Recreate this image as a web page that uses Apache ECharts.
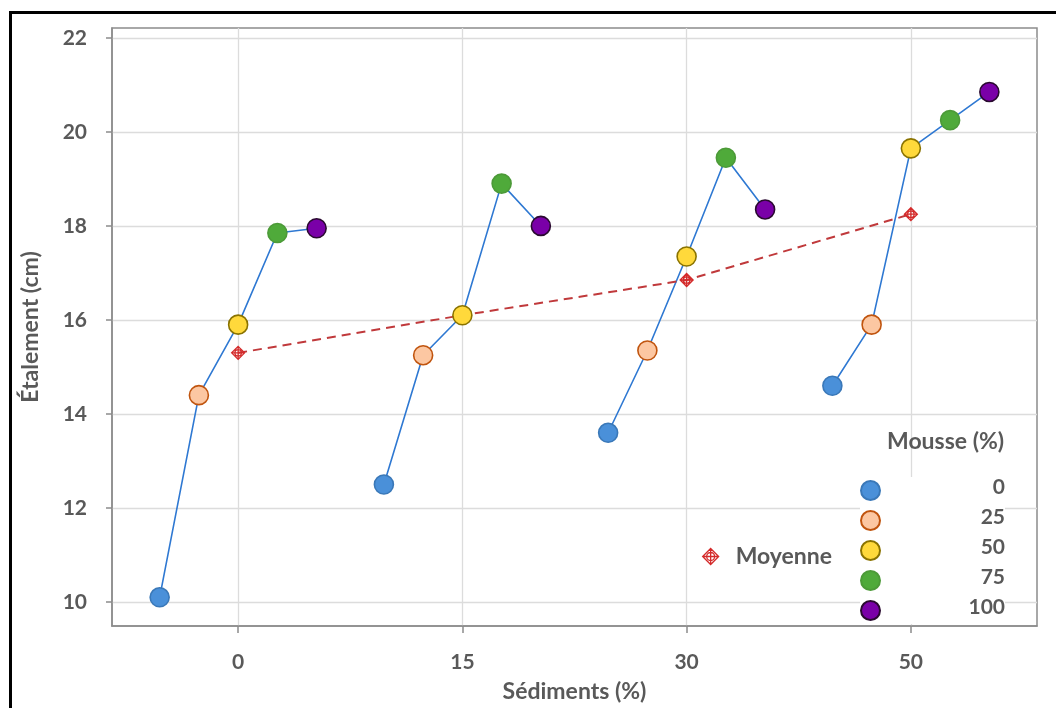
<!DOCTYPE html>
<html>
<head>
<meta charset="utf-8">
<script src="https://cdn.jsdelivr.net/npm/echarts@6/dist/echarts.min.js"></script>
<style>
html,body{margin:0;padding:0;background:#fff;}
#chart{width:1056px;height:708px;}
</style>
</head>
<body>
<div id="chart"></div>
<script>
// ---- Data ----
const sediments = ['0', '15', '30', '50'];          // x categories (Sédiments %)
const mousse = ['0', '25', '50', '75', '100'];      // series (Mousse %)
// Étalement (cm) per Sédiments group, ordered by Mousse 0,25,50,75,100
const etalSed0 = [10.1, 14.4, 15.9, 17.85, 17.95];
const etalSed15 = [12.5, 15.25, 16.1, 18.9, 18.0];
const etalSed30 = [13.6, 15.35, 17.35, 19.45, 18.35];
const etalSed50 = [14.6, 15.9, 19.65, 20.25, 20.85];
const moyenne = [15.3, 16.1, 16.85, 18.25];
const yTicks = [10, 12, 14, 16, 18, 20, 22];

// ---- Layout constants ----
const groups = [etalSed0, etalSed15, etalSed30, etalSed50];
const offsets = [-0.35, -0.175, 0, 0.175, 0.35];
const fills = ['#4A90D9', '#FCC7A2', '#FFD93B', '#4FAA3A', '#7A00A8'];
const borders = ['#3A78B8', '#C0540E', '#8A7300', '#4C9A38', '#2A0A30'];
const FONT = 'Lato';
const TXT = '#595959';

const series = [];
// connecting blue lines, one per sediment group
groups.forEach((g, gi) => {
  series.push({
    type: 'line', name: 'line' + gi, silent: true, symbol: 'none', z: 2,
    lineStyle: { color: '#2E78D2', width: 1.6 },
    data: g.map((v, i) => [gi + offsets[i], v]),
    legendHoverLink: false
  });
});
// Moyenne
const moyIcon = 'path://M0,-10 L10,0 L0,10 L-10,0 Z M0,-10 L0,10 M-10,0 L10,0 M5,0 A5,5 0 1,1 -5,0 A5,5 0 1,1 5,0';
series.push({
  type: 'line', name: 'Moyenne', z: 3,
  symbol: moyIcon, symbolSize: 13, showSymbol: true,
  itemStyle: { color: 'rgba(0,0,0,0)', borderColor: '#D42A2A', borderWidth: 1.3 },
  lineStyle: { color: '#C0393B', width: 2, type: [9, 6] },
  data: moyenne.map((v, i) => [i, v])
});
// mousse scatter series
mousse.forEach((m, mi) => {
  series.push({
    type: 'scatter', name: m, z: 5,
    symbol: 'circle', symbolSize: 19,
    itemStyle: { color: fills[mi], borderColor: borders[mi], borderWidth: 1.6, opacity: 1 },
    data: groups.map((g, gi) => [gi + offsets[mi], g[mi]])
  });
});

const chart = echarts.init(document.getElementById('chart'), null, { renderer: 'canvas' });
chart.setOption({
  animation: false,
  backgroundColor: '#fff',
  textStyle: { fontFamily: FONT },
  grid: {
    left: 112, top: 28, right: 19, bottom: 82,
    show: true, borderColor: '#8C8C8C', borderWidth: 1.5
  },
  xAxis: {
    type: 'value', min: -0.5625, max: 3.5625,
    name: 'Sédiments (%)', nameLocation: 'middle', nameGap: 54,
    nameTextStyle: { fontFamily: FONT, fontWeight: 'bold', fontSize: 23, color: TXT },
    axisLine: { show: true, onZero: false, lineStyle: { color: '#8C8C8C', width: 1.5 } },
    axisTick: { show: true, customValues: [0, 1, 2, 3], length: 7, lineStyle: { color: '#8C8C8C', width: 1.5 } },
    axisLabel: {
      customValues: [0, 1, 2, 3], margin: 26,
      formatter: v => sediments[Math.round(v)],
      fontFamily: FONT, fontWeight: 'bold', fontSize: 21, color: TXT
    },
    splitLine: { show: true, lineStyle: { color: '#DCDCDC', width: 1.3 } }
  },
  yAxis: {
    type: 'value', min: 9.49, max: 22.21,
    name: 'Étalement (cm)', nameLocation: 'middle', nameGap: 70, nameRotate: 90,
    nameTextStyle: { fontFamily: FONT, fontWeight: 'bold', fontSize: 23, color: TXT },
    axisLine: { show: true, onZero: false, lineStyle: { color: '#8C8C8C', width: 1.5 } },
    axisTick: { show: true, customValues: yTicks, length: 6, lineStyle: { color: '#8C8C8C', width: 1.5 } },
    axisLabel: {
      customValues: yTicks, margin: 25,
      fontFamily: FONT, fontWeight: 'bold', fontSize: 21, color: TXT
    },
    splitLine: { show: true, lineStyle: { color: '#DCDCDC', width: 1.3 } }
  },
  legend: [
    {
      data: mousse, orient: 'vertical', left: 860, top: 477, padding: 0,
      itemWidth: 19, itemHeight: 19, itemGap: 3,
      backgroundColor: '#fff',
      formatter: n => '{a|' + n + '}',
      textStyle: { rich: { a: { width: 120, align: 'right', lineHeight: 16, padding: [0, 0, 6, 0], fontFamily: FONT, fontWeight: 'bold', fontSize: 21, color: TXT } } }
    },
    {
      data: ['Moyenne'], left: 702, top: 545, padding: 0,
      itemWidth: 16, itemHeight: 16, itemGap: 10,
      icon: moyIcon,
      itemStyle: { color: 'rgba(0,0,0,0)', borderColor: '#D42A2A', borderWidth: 1.3 },
      textStyle: { fontFamily: FONT, fontWeight: 'bold', fontSize: 23, color: TXT, padding: [0, 0, 0, 12] }
    }
  ],
  graphic: [
    { type: 'rect', left: 8, top: 10, shape: { x: 0, y: 0, width: 1100, height: 800 },
      style: { fill: 'none', stroke: '#000', lineWidth: 3 }, silent: true, z: 100 },
    { type: 'text', left: 887, top: 430,
      style: { text: 'Mousse (%)', fontFamily: FONT, fontWeight: 'bold', fontSize: 23, fill: TXT }, z: 10 }
  ],
  series: series
});
</script>
</body>
</html>
